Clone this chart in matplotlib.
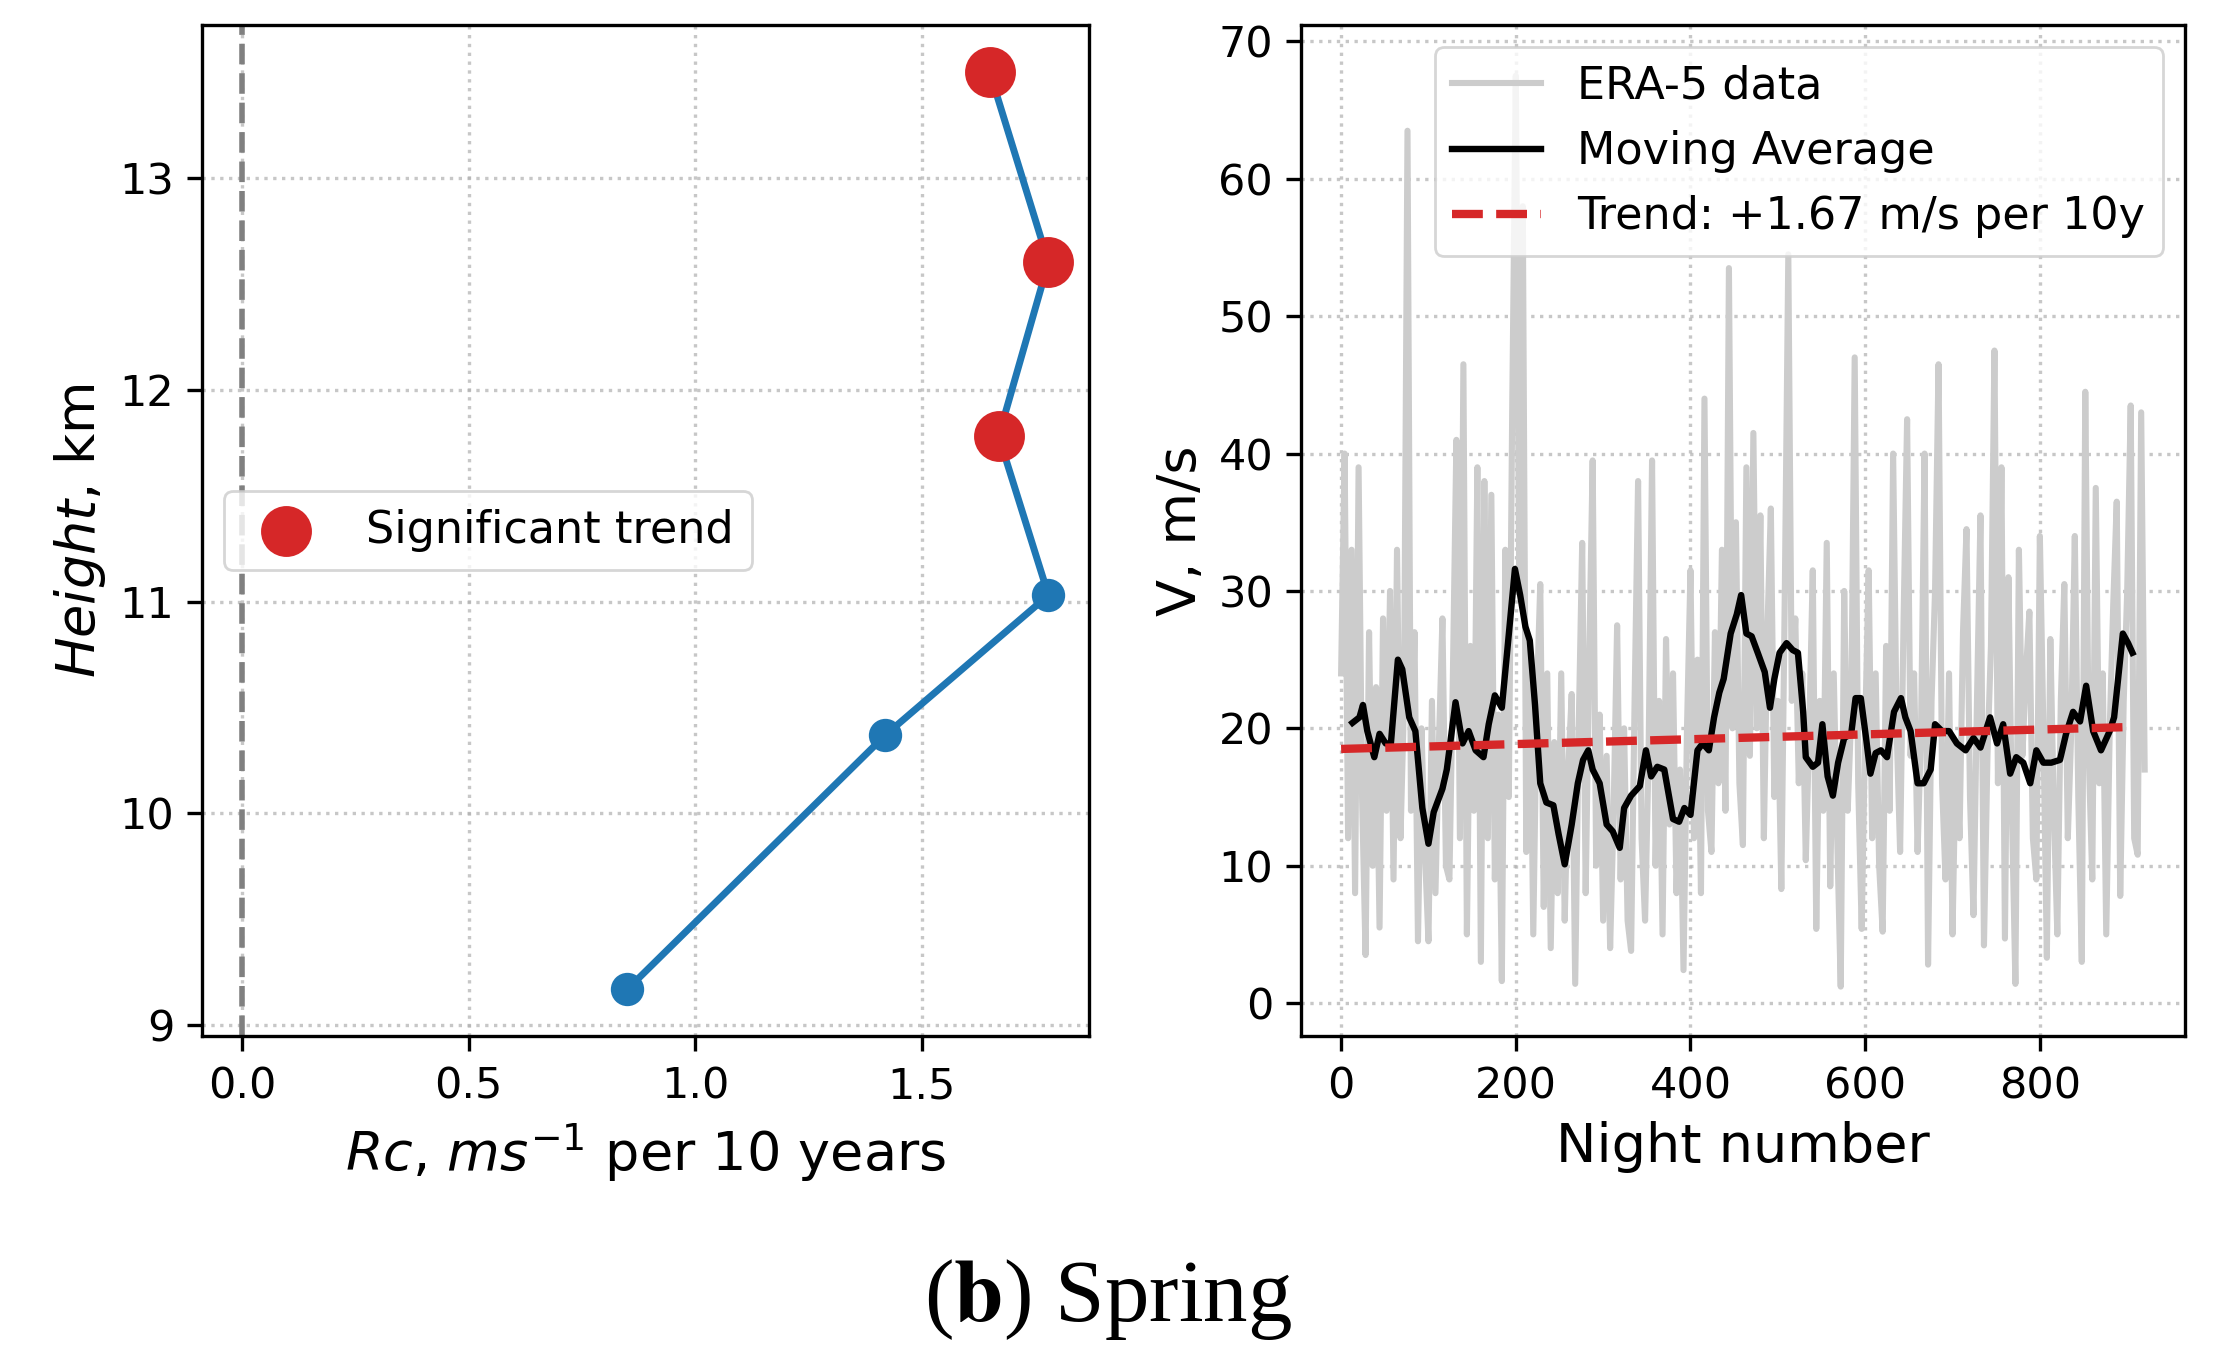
import numpy as np
import matplotlib
matplotlib.use('Agg')
import matplotlib.pyplot as plt

# ---- left panel: trend profile ----
heights = [9.17, 10.37, 11.03, 11.78, 12.60, 13.50]
rc_vals = [0.85, 1.42, 1.78, 1.67, 1.78, 1.65]
sig_heights = [11.78, 12.60, 13.50]
sig_rc = [1.67, 1.78, 1.65]

# ---- right panel: ERA-5 nightly wind (every 4th night) ----
era_step = 4
era_v = [
    24, 40, 12, 33, 8, 39, 15, 3.5, 27, 10, 23, 5.5, 28,
    14, 30, 9, 33, 12, 22, 63.5, 14, 27, 4.5, 20, 11, 4.5,
    22, 8, 19, 28, 10, 9, 24, 41, 12, 46.5, 5, 26,
    14, 39, 3, 38, 12, 37, 9, 21, 1.6, 33, 15, 44, 67.5,
    30, 58, 11, 26, 5, 22, 30.5, 7, 24, 4, 19, 8, 24,
    6, 17, 22.5, 1.4, 20, 33.5, 8, 25, 39.5, 10, 21, 6,
    18, 4, 14, 27.5, 9, 20, 6, 3.8, 22, 38, 12, 6, 18,
    39.5, 10, 22, 5, 26.5, 13, 24, 8, 17, 2.4, 20, 31.5,
    12, 25, 8, 44, 14, 11, 27, 16, 33, 14, 53.5, 20,
    35, 16, 11.5, 39, 18, 41.5, 20, 35.5, 12, 27, 36, 15, 22,
    8.3, 30, 54.5, 22, 28, 16, 24, 10.4, 20, 31.5, 5.4, 22,
    14, 33.5, 8.5, 24, 12, 1.2, 30, 14, 21, 47, 16, 5.4, 20,
    31.5, 12, 24, 10, 5.2, 26, 14, 40, 20, 11, 28, 42.5,
    18, 24, 11, 20, 40, 2.8, 22, 30, 46.5, 16, 9, 24, 5,
    19, 12, 27, 34.5, 15, 6.4, 22, 35.5, 4.2, 18, 26, 47.5,
    16, 39, 4.7, 31, 14, 1.4, 33, 18, 24, 28.5, 12, 9, 34,
    20, 3.3, 26.5, 14, 5, 22, 30.5, 12, 20, 34, 15, 3,
    44.5, 18, 9, 37.5, 16, 24, 5, 20, 29, 36.5, 7.8, 22, 30,
    43.5, 12, 10.8, 43, 17,
]
era_nights = np.arange(len(era_v)) * era_step

ma_nights = [13, 21, 25, 30, 38, 44, 51, 57, 65, 70, 78, 85, 93, 100, 106, 116, 121,
             131, 139, 146, 154, 163, 169, 176, 184, 190, 199, 205, 211, 216, 222, 228,
             235, 243, 249, 256, 264, 271, 277, 283, 288, 296, 304, 311, 319, 324, 332,
             342, 349, 355, 362, 370, 380, 387, 393, 400, 408, 414, 421, 427, 433, 438,
             446, 453, 458, 464, 470, 477, 485, 491, 496, 502, 510, 517, 523, 529, 532,
             540, 546, 551, 557, 563, 569, 576, 584, 589, 595, 601, 606, 612, 618, 625,
             633, 641, 646, 652, 660, 667, 675, 680, 688, 696, 705, 715, 724, 732, 743,
             751, 758, 766, 773, 781, 789, 796, 804, 813, 823, 830, 838, 846, 853, 861,
             870, 880, 885, 891, 895, 901, 906]
ma_v = [20.4, 20.8, 21.7, 19.8, 17.9, 19.6, 18.9, 18.9, 25.0, 24.3, 20.8, 19.8, 14.2,
        11.6, 13.9, 15.6, 17.0, 21.9, 18.9, 19.8, 18.4, 17.9, 20.3, 22.4, 21.5, 25.5,
        31.6, 29.7, 27.4, 26.4, 21.7, 16.0, 14.6, 14.4, 12.3, 10.1, 13.0, 16.0, 17.7,
        18.4, 17.0, 16.0, 13.0, 12.5, 11.3, 14.2, 15.1, 15.8, 18.4, 16.5, 17.2, 17.0,
        13.4, 13.2, 14.2, 13.7, 18.4, 18.9, 18.4, 20.8, 22.6, 23.6, 26.9, 28.3, 29.7,
        26.9, 26.7, 25.5, 24.1, 21.5, 23.6, 25.5, 26.2, 25.7, 25.5, 21.2, 17.9, 17.2,
        17.5, 20.3, 16.5, 15.1, 17.5, 19.3, 19.6, 22.2, 22.2, 19.3, 16.7, 18.2, 18.4,
        17.9, 21.2, 22.2, 20.8, 19.8, 16.0, 16.0, 17.0, 20.3, 19.8, 19.8, 18.9, 18.4,
        19.3, 18.6, 20.8, 18.9, 20.3, 16.7, 17.9, 17.5, 16.0, 18.4, 17.5, 17.5, 17.7,
        19.6, 21.2, 20.5, 23.1, 19.8, 18.4, 19.8, 20.8, 24.5, 26.9, 26.2, 25.5]

trend_nights = [0, 906]
trend_v = [18.5, 20.1]

BLUE = '#1f77b4'
RED = '#d62728'

plt.rcParams['font.family'] = ['DejaVu Sans']
plt.rcParams['axes.linewidth'] = 1.2
plt.rcParams['xtick.major.width'] = 1.2
plt.rcParams['ytick.major.width'] = 1.2
plt.rcParams['xtick.major.size'] = 5.5
plt.rcParams['ytick.major.size'] = 5.5
plt.rcParams['xtick.major.pad'] = 5
plt.rcParams['ytick.major.pad'] = 4.5

fig = plt.figure(figsize=(11.085, 6.855), dpi=200)
ax1 = fig.add_axes([0.0911, 0.2443, 0.400, 0.7375])
ax2 = fig.add_axes([0.5868, 0.2443, 0.3987, 0.7375])

# left
ax1.axvline(0, color='gray', linestyle='--', linewidth=2)
ax1.plot(rc_vals, heights, '-o', color=BLUE, linewidth=2.5, markersize=11)
ax1.scatter(sig_rc, sig_heights, s=300, color=RED, zorder=3, label='Significant trend')
ax1.set_xlim(-0.089, 1.869)
ax1.set_ylim(8.95, 13.72)
ax1.set_xticks([0.0, 0.5, 1.0, 1.5])
ax1.set_yticks([9, 10, 11, 12, 13])
ax1.grid(True, linestyle=':', alpha=0.7, linewidth=1.2)
ax1.set_xlabel(r'$Rc$, $ms^{-1}$ per 10 years', fontsize=19.5, labelpad=5)
ax1.set_ylabel(r'$\it{Height}$, km', fontsize=19.5)
ax1.tick_params(labelsize=15.5)
ax1.legend(loc='center left', fontsize=16)

# right
ax2.plot(era_nights, era_v, color='0.8', linewidth=2.2, label='ERA-5 data')
ax2.plot(ma_nights, ma_v, color='black', linewidth=2.3, label='Moving Average')
ax2.plot(trend_nights, trend_v, color=RED, linestyle='--', linewidth=3,
         label='Trend: +1.67 m/s per 10y')
ax2.set_xlim(-46, 966)
ax2.set_ylim(-2.4, 71.2)
ax2.set_xticks([0, 200, 400, 600, 800])
ax2.set_yticks(range(0, 71, 10))
ax2.grid(True, linestyle=':', alpha=0.7, linewidth=1.2)
ax2.set_xlabel('Night number', fontsize=19.5, labelpad=5)
ax2.set_ylabel('V, m/s', fontsize=19.5)
ax2.tick_params(labelsize=15.5)
ax2.legend(loc='upper right', fontsize=16)

fig.text(0.5, 0.052, r'($\mathbf{b}$) Spring', ha='center', va='center', fontsize=32,
         family='Liberation Serif', math_fontfamily='stix')

fig.savefig('out.png', dpi=200)
